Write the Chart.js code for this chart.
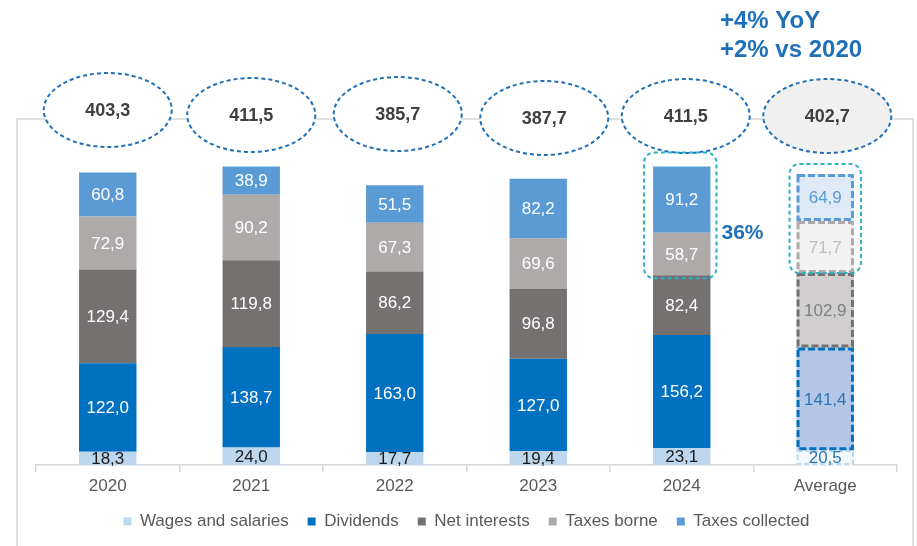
<!DOCTYPE html>
<html>
<head>
<meta charset="utf-8">
<script src="https://cdn.jsdelivr.net/npm/chart.js@4.4.1/dist/chart.umd.min.js"></script>
<style>
  html, body { margin: 0; padding: 0; background: #fff; }
  #wrap { width: 917px; height: 546px; position: relative; }
</style>
</head>
<body>
<div id="wrap"><canvas id="taxChart"></canvas></div>
<script>
// contribution breakdown per year (EUR m)
const years = ['2020', '2021', '2022', '2023', '2024', 'Average'];
const wages = [18.3, 24.0, 17.7, 19.4, 23.1, 20.5];
const dividends = [122.0, 138.7, 163.0, 127.0, 156.2, 141.4];
const netInterests = [129.4, 119.8, 86.2, 96.8, 82.4, 102.9];
const taxesBorne = [72.9, 90.2, 67.3, 69.6, 58.7, 71.7];
const taxesCollected = [60.8, 38.9, 51.5, 82.2, 91.2, 64.9];
const totals = ['403,3', '411,5', '385,7', '387,7', '411,5', '402,7'];
const growthNotes = ['+4% YoY', '+2% vs 2020'];
const shareNote = '36%';

const FONT = '"Liberation Sans", Arial, sans-serif';
const AVG = years.length - 1;

// normal colour, average fill, average dashed border, label colour, average label colour
const styles = [
  { main: '#bdd7ee', avg: '#f3f8fd', edge: '#bdd7ee', text: '#1a1a1a', avgText: '#2e75b6', dash: [5, 3], lw: 2 },
  { main: '#0070c0', avg: '#b4c7e7', edge: '#0070c0', text: '#ffffff', avgText: '#2e75b6', dash: [7, 3], lw: 3 },
  { main: '#767171', avg: '#d0cece', edge: '#767171', text: '#ffffff', avgText: '#7f7f7f', dash: [7, 3], lw: 3 },
  { main: '#aeaaaa', avg: '#f2f2f2', edge: '#aeaaaa', text: '#ffffff', avgText: '#bfbfbf', dash: [7, 3], lw: 3 },
  { main: '#5b9bd5', avg: '#deebf7', edge: '#5b9bd5', text: '#ffffff', avgText: '#5b9bd5', dash: [7, 3], lw: 3 }
];

function fmt(v) {
  return v.toFixed(1).replace('.', ',');
}

function makeSet(label, data, s) {
  return {
    label: label,
    data: data,
    backgroundColor: ctx => (ctx.dataIndex === AVG ? s.avg : s.main),
    borderWidth: 0,
    barPercentage: 0.4,
    categoryPercentage: 1
  };
}

// frame line behind the total bubbles
const framePlugin = {
  id: 'frame',
  beforeDraw(chart) {
    const c = chart.ctx;
    c.save();
    c.strokeStyle = '#d6d6d6';
    c.lineWidth = 1.5;
    c.beginPath();
    c.moveTo(17, 546);
    c.lineTo(17, 119);
    c.lineTo(913, 119);
    c.lineTo(913, 546);
    c.stroke();
    c.restore();
  }
};

// segment values + dashed outline on the average column
const segmentPlugin = {
  id: 'segments',
  afterDatasetsDraw(chart) {
    const c = chart.ctx;
    c.save();
    chart.data.datasets.forEach((ds, i) => {
      const s = styles[i];
      const avgBar = chart.getDatasetMeta(i).data[AVG];
      c.setLineDash(s.dash);
      c.lineWidth = s.lw;
      c.strokeStyle = s.edge;
      const h = s.lw / 2;
      c.strokeRect(avgBar.x - avgBar.width / 2 + h, avgBar.y + h, avgBar.width - s.lw, avgBar.base - avgBar.y - s.lw);
    });
    c.setLineDash([]);
    c.font = '17px ' + FONT;
    c.textAlign = 'center';
    c.textBaseline = 'middle';
    chart.data.datasets.forEach((ds, i) => {
      const s = styles[i];
      chart.getDatasetMeta(i).data.forEach((bar, j) => {
        c.fillStyle = j === AVG ? s.avgText : s.text;
        c.fillText(fmt(ds.data[j]), bar.x, (bar.y + bar.base) / 2 + 1);
      });
    });
    c.restore();
  }
};

// total bubbles, highlight boxes and notes
const notesPlugin = {
  id: 'notes',
  afterDraw(chart, args, opts) {
    const c = chart.ctx;
    const xs = chart.getDatasetMeta(0).data.map(b => b.x);
    c.save();

    totals.forEach((t, i) => {
      const cx = xs[i] + opts.dx[i];
      const cy = opts.cy[i];
      c.beginPath();
      c.ellipse(cx, cy, 64, 37, 0, 0, Math.PI * 2);
      c.fillStyle = i === AVG ? '#f0f0f0' : '#ffffff';
      c.fill();
      c.setLineDash([4, 3]);
      c.lineWidth = 2;
      c.strokeStyle = '#1f70b8';
      c.stroke();
      c.setLineDash([]);
      c.fillStyle = '#404040';
      c.font = 'bold 18px ' + FONT;
      c.textAlign = 'center';
      c.textBaseline = 'middle';
      c.fillText(t, cx, cy + 1);
    });

    // teal boxes around the two tax segments
    const borne = chart.getDatasetMeta(3).data;
    const coll = chart.getDatasetMeta(4).data;
    c.setLineDash([4, 3]);
    c.lineWidth = 2;
    c.strokeStyle = '#2bb3c4';
    [[4, 9, 6, 14, 3], [AVG, 7, 7, 10, 0]].forEach(([k, ml, mr, mt, mb]) => {
      const b = coll[k];
      const x0 = b.x - b.width / 2 - ml;
      const x1 = b.x + b.width / 2 + mr;
      const y0 = b.y - mt;
      const y1 = borne[k].base + mb;
      c.beginPath();
      c.roundRect(x0, y0, x1 - x0, y1 - y0, 10);
      c.stroke();
    });
    c.setLineDash([]);

    c.fillStyle = '#1f70b8';
    c.textAlign = 'left';
    c.textBaseline = 'middle';
    c.font = 'bold 21px ' + FONT;
    const b24 = coll[4];
    c.fillText(shareNote, b24.x + b24.width / 2 + 11, borne[4].y);

    c.textBaseline = 'alphabetic';
    c.font = 'bold 24px ' + FONT;
    c.fillText(growthNotes[0], 720, 28);
    c.fillText(growthNotes[1], 720, 57);
    c.restore();
  }
};

const ctx = document.getElementById('taxChart').getContext('2d');
const chart = new Chart(ctx, {
  type: 'bar',
  data: {
    labels: years,
    datasets: [
      makeSet('Wages and salaries', wages, styles[0]),
      makeSet('Dividends', dividends, styles[1]),
      makeSet('Net interests', netInterests, styles[2]),
      makeSet('Taxes borne', taxesBorne, styles[3]),
      makeSet('Taxes collected', taxesCollected, styles[4])
    ]
  },
  options: {
    responsive: true,
    maintainAspectRatio: false,
    animation: false,
    layout: { padding: { top: 59, left: 36, right: 20, bottom: 6 } },
    scales: {
      x: {
        stacked: true,
        grid: { display: true, drawOnChartArea: false, offset: true, tickLength: 7, color: '#d6d6d6', lineWidth: 1.5 },
        border: { display: true, color: '#d6d6d6', width: 1.5 },
        ticks: { color: '#595959', font: { family: FONT, size: 17 }, padding: 4 },
        afterFit(scale) { scale.height = 29; }
      },
      y: {
        stacked: true,
        display: false,
        min: 0,
        max: 560
      }
    },
    plugins: {
      legend: {
        position: 'bottom',
        labels: {
          color: '#595959',
          font: { family: FONT, size: 17 },
          boxWidth: 8,
          boxHeight: 8,
          padding: 19
        }
      },
      tooltip: { enabled: false },
      notes: {
        dx: [0, 0, 3, 6, 4, 2],
        cy: [110, 115, 114, 118, 116, 116]
      }
    }
  },
  plugins: [framePlugin, segmentPlugin, notesPlugin]
});
</script>
</body>
</html>
